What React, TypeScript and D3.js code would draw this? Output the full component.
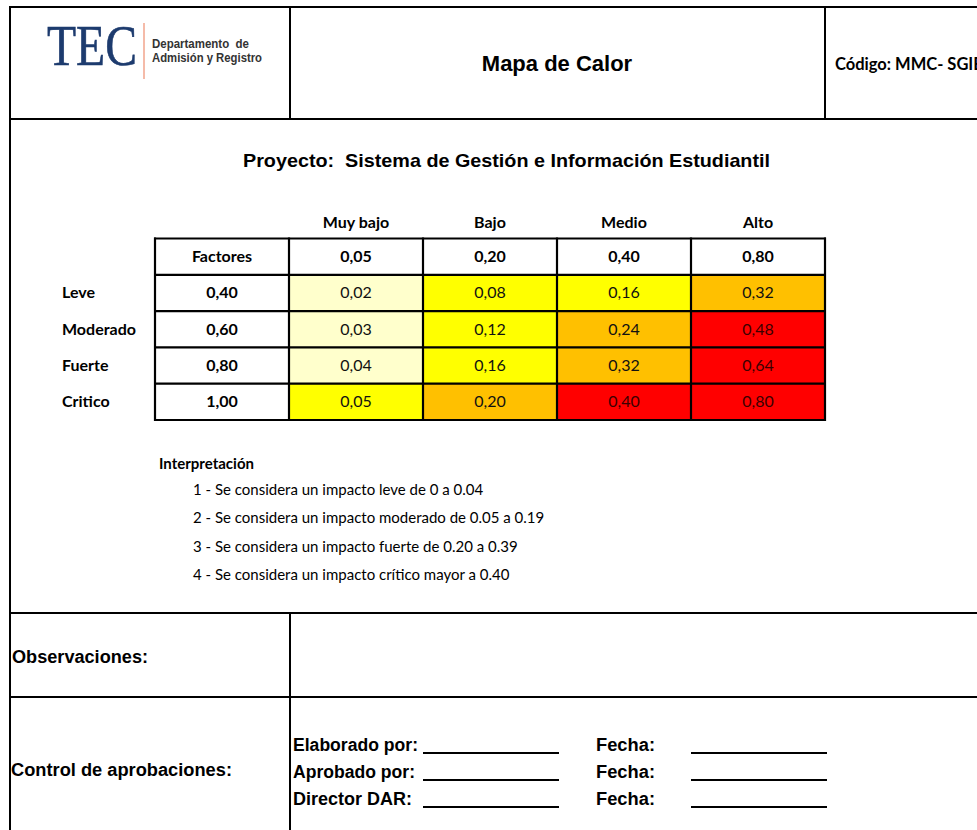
import React from "react";
import * as d3 from "d3";

const impactLabels = ["Muy bajo", "Bajo", "Medio", "Alto"];
const impactValues = ["0,05", "0,20", "0,40", "0,80"];
const severityLabels = ["Leve", "Moderado", "Fuerte", "Critico"];
const severityValues = ["0,40", "0,60", "0,80", "1,00"];
const cellValues = [
  [0.02, 0.08, 0.16, 0.32],
  [0.03, 0.12, 0.24, 0.48],
  [0.04, 0.16, 0.32, 0.64],
  [0.05, 0.2, 0.4, 0.8],
];
const thresholds = [0.05, 0.2, 0.4];
const levelColors = ["#FFFFCC", "#FFFF00", "#FFC000", "#FF0000"];
const interpretation = [
  "1 - Se considera un impacto leve de 0 a 0.04",
  "2 - Se considera un impacto moderado de 0.05 a 0.19",
  "3 - Se considera un impacto fuerte de 0.20 a 0.39",
  "4 - Se considera un impacto crítico mayor a 0.40",
];
const approvals = ["Elaborado por:", "Aprobado por:", "Director DAR:"];
const approvalWidths = [125, 122, 119];

const W = 977;
const H = 830;
const CAL = "Lato, 'Open Sans', sans-serif";
const ARIAL = "'Liberation Sans', Arial, sans-serif";

export default function App() {
  const colKeys = ["factor", ...impactLabels];
  const x = d3.scaleBand<string>().domain(colKeys).range([155, 825]);
  const rowKeys = ["head", ...severityLabels];
  const y = d3.scaleBand<string>().domain(rowKeys).range([238.5, 420]);
  const color = d3.scaleThreshold<number, string>().domain(thresholds).range(levelColors);
  const fmt = (v: number) => d3.format(".2f")(v).replace(".", ",");
  const bw = x.bandwidth();
  const bh = y.bandwidth();
  const line = "#000";

  return (
    <svg
      width={W}
      height={H}
      style={{ position: "absolute", left: 0, top: 0, display: "block", background: "#fff" }}
    >
      <rect x={0} y={0} width={W} height={H} fill="#fff" />
      {/* Frame lines */}
      <g stroke={line} strokeWidth={2} fill="none">
        <line x1={10} y1={7} x2={W} y2={7} />
        <line x1={10} y1={6} x2={10} y2={H} />
        <line x1={290} y1={7} x2={290} y2={119} />
        <line x1={825} y1={7} x2={825} y2={119} />
        <line x1={10} y1={119} x2={W} y2={119} />
        <line x1={10} y1={613} x2={W} y2={613} />
        <line x1={290} y1={613} x2={290} y2={H} />
        <line x1={10} y1={697} x2={W} y2={697} />
      </g>

      {/* Logo */}
      <text
        x={47}
        y={65}
        fontFamily="'Liberation Serif', 'DejaVu Serif', serif"
        fontSize={58}
        fill="#1d3b6e"
        stroke="#1d3b6e"
        strokeWidth={0.6}
        textLength={90}
        lengthAdjust="spacingAndGlyphs"
      >
        TEC
      </text>
      <line x1={144} y1={23} x2={144} y2={79} stroke="#f2a58c" strokeWidth={1.5} />
      <text x={152} y={48} fontFamily={ARIAL} fontWeight="bold" fontSize={12.5} fill="#333" textLength={97} lengthAdjust="spacingAndGlyphs" style={{ whiteSpace: "pre" }}>
        Departamento  de
      </text>
      <text x={152} y={62} fontFamily={ARIAL} fontWeight="bold" fontSize={12.5} fill="#333" textLength={110} lengthAdjust="spacingAndGlyphs">
        Admisión y Registro
      </text>

      <text x={557} y={71} textAnchor="middle" fontFamily={ARIAL} fontWeight="bold" fontSize={22}>
        Mapa de Calor
      </text>
      <text x={835} y={70} fontFamily={CAL} fontWeight="bold" fontSize={16.5}>
        Código: MMC- SGIE
      </text>

      <text
        x={243}
        y={167}
        fontFamily={ARIAL}
        fontWeight="bold"
        fontSize={19}
        textLength={527}
        lengthAdjust="spacingAndGlyphs"
        style={{ whiteSpace: "pre" }}
      >
        Proyecto:  Sistema de Gestión e Información Estudiantil
      </text>

      {/* Column headers above table */}
      {impactLabels.map((l) => (
        <text
          key={l}
          x={(x(l) as number) + bw / 2}
          y={228}
          textAnchor="middle"
          fontFamily={CAL}
          fontWeight="bold"
          fontSize={16}
        >
          {l}
        </text>
      ))}

      {/* Cells */}
      {severityLabels.map((s, i) =>
        impactLabels.map((c, j) => (
          <rect
            key={s + c}
            x={x(c) as number}
            y={y(s) as number}
            width={bw}
            height={bh}
            fill={color(cellValues[i][j])}
          />
        ))
      )}

      {/* Grid lines */}
      <g stroke={line} strokeWidth={2.2}>
        {rowKeys.concat(["end"]).map((r, i) => {
          const yy = 238.5 + i * bh;
          return <line key={"h" + r} x1={154} x2={826} y1={yy} y2={yy} />;
        })}
        {colKeys.concat(["end"]).map((c, i) => {
          const xx = 155 + i * bw;
          return <line key={"v" + c} x1={xx} x2={xx} y1={237.5} y2={421} />;
        })}
      </g>

      {/* Header row */}
      <text
        x={(x("factor") as number) + bw / 2}
        y={(y("head") as number) + bh / 2 + 5.5}
        textAnchor="middle"
        fontFamily={CAL}
        fontWeight="bold"
        fontSize={16}
      >
        Factores
      </text>
      {impactLabels.map((l, j) => (
        <text
          key={"iv" + l}
          x={(x(l) as number) + bw / 2}
          y={(y("head") as number) + bh / 2 + 5.5}
          textAnchor="middle"
          fontFamily={CAL}
          fontWeight="bold"
          fontSize={16}
        >
          {impactValues[j]}
        </text>
      ))}

      {/* Row labels and severity values */}
      {severityLabels.map((s, i) => (
        <g key={"r" + s}>
          <text x={62} y={(y(s) as number) + bh / 2 + 5.5} fontFamily={CAL} fontWeight="bold" fontSize={16}>
            {s}
          </text>
          <text
            x={(x("factor") as number) + bw / 2}
            y={(y(s) as number) + bh / 2 + 5.5}
            textAnchor="middle"
            fontFamily={CAL}
            fontWeight="bold"
            fontSize={16}
          >
            {severityValues[i]}
          </text>
          {impactLabels.map((c, j) => (
            <text
              key={"t" + c}
              x={(x(c) as number) + bw / 2}
              y={(y(s) as number) + bh / 2 + 5.5}
              textAnchor="middle"
              fontFamily={CAL}
              fontSize={16}
              fill={cellValues[i][j] >= 0.4 ? "#3a0000" : "#111"}
            >
              {fmt(cellValues[i][j])}
            </text>
          ))}
        </g>
      ))}

      {/* Interpretation */}
      <text x={159} y={469} fontFamily={CAL} fontWeight="bold" fontSize={15}>
        Interpretación
      </text>
      {interpretation.map((t, i) => (
        <text key={t} x={193} y={495 + i * 28.3} fontFamily={CAL} fontSize={15}>
          {t}
        </text>
      ))}

      {/* Observaciones */}
      <text x={12} y={663} fontFamily={ARIAL} fontWeight="bold" fontSize={18} textLength={136} lengthAdjust="spacingAndGlyphs">
        Observaciones:
      </text>

      {/* Control de aprobaciones */}
      <text x={11} y={776} fontFamily={ARIAL} fontWeight="bold" fontSize={18} textLength={221} lengthAdjust="spacingAndGlyphs">
        Control de aprobaciones:
      </text>
      {approvals.map((a, i) => {
        const by = 751 + i * 27;
        return (
          <g key={a}>
            <text x={293} y={by} fontFamily={ARIAL} fontWeight="bold" fontSize={17.5} textLength={approvalWidths[i]} lengthAdjust="spacingAndGlyphs">
              {a}
            </text>
            <line x1={423} x2={559} y1={by + 2} y2={by + 2} stroke="#000" strokeWidth={2} />
            <text x={596} y={by} fontFamily={ARIAL} fontWeight="bold" fontSize={17.5} textLength={59} lengthAdjust="spacingAndGlyphs">
              Fecha:
            </text>
            <line x1={691} x2={827} y1={by + 2} y2={by + 2} stroke="#000" strokeWidth={2} />
          </g>
        );
      })}
    </svg>
  );
}
